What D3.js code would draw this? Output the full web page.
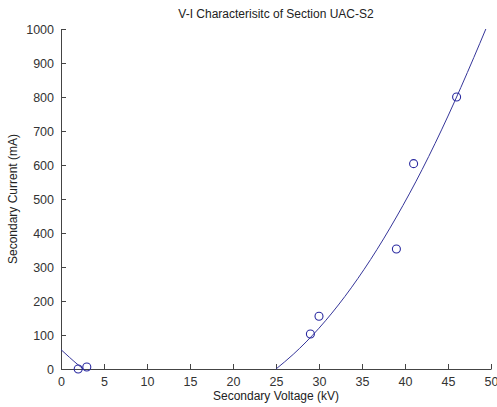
<!DOCTYPE html>
<html lang="en">
<head>
  <meta charset="UTF-8">
  <title>V-I Characteristic</title>
  <style>
    body { margin: 0; background: #fff; }
    text { font-family: "Liberation Sans", Arial, sans-serif; }
  </style>
</head>
<body>
<div id="chart"></div>
<script src="https://cdn.jsdelivr.net/npm/d3@7"></script>
<script>
  // measured points
  const voltage = [2, 3, 29, 30, 39, 41, 46];
  const current = [0, 6, 103, 155, 353, 604, 800];

  // fitted curve (two visible pieces, below zero is clipped)
  const fitLeftV = [0, 1, 2, 2.6];
  const fitLeftI = [57, 34, 12, 0];
  const fitRightV = [25, 27, 30, 33, 36, 39, 42, 45, 48, 49.4];
  const fitRightI = [0, 43, 120, 213, 322, 447, 587, 744, 916, 1000];

  const xTicks = [0, 5, 10, 15, 20, 25, 30, 35, 40, 45, 50];
  const yTicks = [0, 100, 200, 300, 400, 500, 600, 700, 800, 900, 1000];

  const W = 497, H = 407;
  const margin = {top: 29, right: 6, bottom: 38, left: 61};
  const width = W - margin.left - margin.right;
  const height = H - margin.top - margin.bottom;

  const svg = d3.select('#chart').append('svg')
    .attr('width', W)
    .attr('height', H);

  const g = svg.append('g')
    .attr('transform', 'translate(' + margin.left + ',' + margin.top + ')');

  const x = d3.scaleLinear().domain([0, 50]).range([0, width]);
  const y = d3.scaleLinear().domain([0, 1000]).range([height, 0]);

  const axisColor = '#444';
  const lineColor = '#36369a';

  // axes, MATLAB style ticks pointing inward
  const xAxis = g.append('g')
    .attr('transform', 'translate(0,' + height + ')')
    .call(d3.axisBottom(x).tickValues(xTicks).tickFormat(d3.format('d'))
      .tickSizeInner(-5).tickSizeOuter(0).tickPadding(8));
  const yAxis = g.append('g')
    .call(d3.axisLeft(y).tickValues(yTicks).tickFormat(d3.format('d'))
      .tickSizeInner(-5).tickSizeOuter(0).tickPadding(7));

  [xAxis, yAxis].forEach(a => {
    a.select('.domain').attr('stroke', axisColor);
    a.selectAll('.tick line').attr('stroke', axisColor);
    a.selectAll('.tick text')
      .attr('fill', '#333')
      .style('font-size', '12.5px')
      .style('font-family', '"Liberation Sans", Arial, sans-serif');
  });

  const line = d3.line()
    .x(d => x(d[0]))
    .y(d => y(d[1]))
    .curve(d3.curveMonotoneX);

  [[fitLeftV, fitLeftI], [fitRightV, fitRightI]].forEach(([vs, is]) => {
    g.append('path')
      .datum(vs.map((v, i) => [v, is[i]]))
      .attr('fill', 'none')
      .attr('stroke', lineColor)
      .attr('stroke-width', 1)
      .attr('d', line);
  });

  g.selectAll('circle.pt')
    .data(voltage.map((v, i) => [v, current[i]]))
    .join('circle')
    .attr('class', 'pt')
    .attr('cx', d => x(d[0]))
    .attr('cy', d => y(d[1]))
    .attr('r', 4)
    .attr('fill', 'none')
    .attr('stroke', '#2a2aa0')
    .attr('stroke-width', 1.1);

  // title and labels
  svg.append('text')
    .attr('x', margin.left + width / 2)
    .attr('y', 18)
    .attr('text-anchor', 'middle')
    .attr('fill', '#222')
    .style('font-size', '12px')
    .text('V-I Characterisitc of Section UAC-S2');

  svg.append('text')
    .attr('x', margin.left + width / 2)
    .attr('y', 400)
    .attr('text-anchor', 'middle')
    .attr('fill', '#222')
    .style('font-size', '12px')
    .text('Secondary Voltage (kV)');

  svg.append('text')
    .attr('transform', 'translate(17,' + (margin.top + height / 2) + ') rotate(-90)')
    .attr('text-anchor', 'middle')
    .attr('fill', '#222')
    .style('font-size', '12px')
    .text('Secondary Current (mA)');
</script>
</body>
</html>
